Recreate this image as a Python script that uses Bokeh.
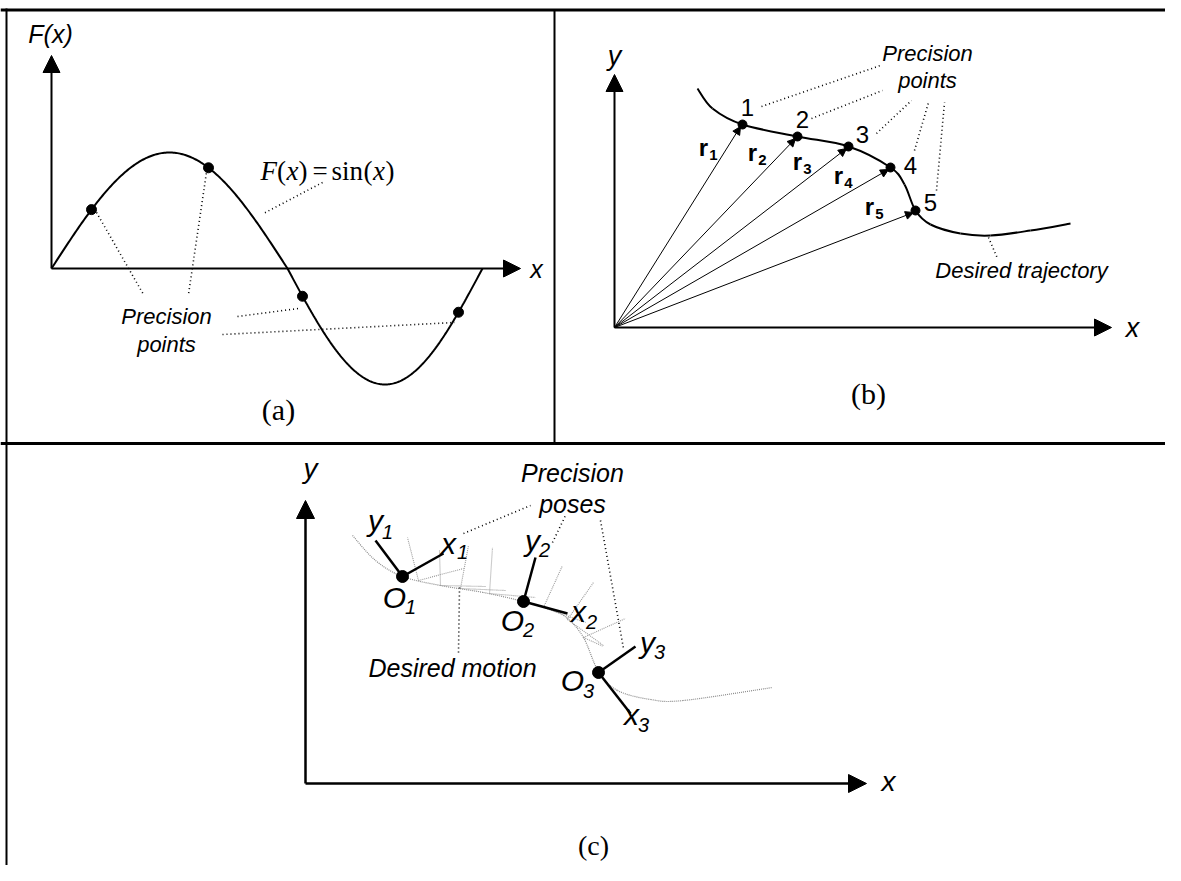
import numpy as np
from bokeh.plotting import figure
from bokeh.models import Range1d, Arrow, NormalHead
from bokeh.core.properties import value
from bokeh.embed import file_html
from bokeh.resources import INLINE

# ================= DATA =================
# --- panel (a): F(x) = sin(x) ---
a_origin_x, a_origin_y = 51, 268
a_xtip, a_ytip = 520, 55
a_zero_x, a_end_x = 287, 482          # half-period and full-period x positions
a_amp = 116
a_prec_x = [91, 208, 302, 458]         # precision points (x positions)
a_leaders = [(92, 205, 143, 294), (207, 165, 188, 294),
             (237, 316, 298, 308), (222, 334, 454, 322),
             (322, 182, 263, 213)]

# --- panel (b): position vectors to precision points ---
b_origin_x, b_origin_y = 614, 327
b_xtip, b_ytip = 1111, 74
b_traj = [(697, 88), (712, 108), (742, 124), (797, 136), (848, 146),
          (890, 167), (904, 184), (915, 210), (930, 224), (960, 233),
          (990, 235), (1030, 230), (1070, 223)]
b_points = [(742, 124), (797, 136), (848, 146), (890, 167), (915, 210)]
b_numbers = ["1", "2", "3", "4", "5"]
b_num_pos = [(747, 107), (802, 119), (862, 134), (910, 165), (930, 202)]
b_r_pos = [(703, 147), (752, 152), (797, 161), (838, 175), (869, 206)]
b_r_sub = ["1", "2", "3", "4", "5"]
b_leaders = [(761, 106, 880, 65), (811, 118, 882, 90), (876, 133, 911, 100),
             (914, 150, 928, 102), (936, 190, 944, 102), (988, 237, 997, 258)]

# --- panel (c): precision poses ---
c_origin_x, c_origin_y = 305, 783
c_xtip, c_ytip = 866, 500
c_motion = [(352, 535), (375, 560), (402, 576), (440, 585), (483, 592),
            (523, 601), (550, 609), (567, 618), (583, 637), (598, 671),
            (617, 690), (650, 699), (683, 700), (772, 687)]
c_poses = [(402, 576), (523, 601), (598, 672)]
c_yends = [(375, 540), (535, 557), (635, 646)]
c_xends = [(443, 553), (567, 613), (630, 713)]
c_ghost_o = [(418, 580), (440, 585), (460, 588), (489, 593), (543, 607), (567, 619), (583, 637)]
c_ghost_y = [(407, 537), (439, 550), (468, 545), (492, 547), (562, 565), (593, 582), (625, 618)]
c_ghost_x = [(463, 568), (485, 586), (505, 590), (535, 597), (585, 622), (603, 645), (603, 646)]
c_leaders = [(463, 533, 530, 505), (552, 542, 565, 515), (600, 520, 623, 648),
             (459, 587, 458, 652)]
c_main = ["y", "x", "O", "y", "O", "x", "y", "O", "x"]
c_main_pos = [(375, 520), (448, 543), (394, 597), (532, 540), (512, 620),
              (578, 611), (647, 642), (572, 680), (631, 714)]
c_sub = ["1", "1", "1", "2", "2", "2", "3", "3", "3"]
c_sub_pos = [(387, 531), (462, 551), (410, 606), (544, 549), (528, 629),
             (591, 621), (659, 651), (588, 690), (643, 724)]

# ================= FIGURE =================
W, H = 1165, 865
p = figure(width=W, height=H, x_range=Range1d(0, W), y_range=Range1d(H, 0),
           output_backend="svg", toolbar_location=None, min_border=0,
           x_axis_location=None, y_axis_location=None)
p.grid.visible = False
p.outline_line_color = None
p.background_fill_color = "white"
p.border_fill_color = "white"

sans = value("Liberation Sans")
serif = value("Liberation Serif")


def txt(xs, ys, texts, size, font=sans, style="normal", align="center",
        baseline="middle", color="black"):
    p.text(x=xs, y=ys, text=texts, text_font=font, text_font_size=f"{size}px",
           text_font_style=style, text_align=align, text_baseline=baseline,
           text_color=color)


def arrow(x0, y0, x1, y1, size, lw):
    p.add_layout(Arrow(end=NormalHead(size=size, fill_color="black", line_color="black"),
                       x_start=x0, y_start=y0, x_end=x1, y_end=y1,
                       line_width=lw, line_color="black"))


def smooth(pts, **kw):
    P = np.array(pts, float)
    E = np.vstack([P[0], P, P[-1]])
    seg = {k: [] for k in ["x0", "y0", "x1", "y1", "cx0", "cy0", "cx1", "cy1"]}
    for i in range(len(P) - 1):
        q0, q1, q2, q3 = E[i], E[i + 1], E[i + 2], E[i + 3]
        c1 = q1 + (q2 - q0) / 6.0
        c2 = q2 - (q3 - q1) / 6.0
        seg["x0"].append(q1[0]); seg["y0"].append(q1[1])
        seg["x1"].append(q2[0]); seg["y1"].append(q2[1])
        seg["cx0"].append(c1[0]); seg["cy0"].append(c1[1])
        seg["cx1"].append(c2[0]); seg["cy1"].append(c2[1])
    p.bezier(**seg, **kw)


def dotted(segs, color="black", dash="1 3", lw=1.6):
    s = np.array(segs, float)
    p.segment(x0=s[:, 0], y0=s[:, 1], x1=s[:, 2], y1=s[:, 3],
              line_color=color, line_dash=dash, line_width=lw)


# ---- frame ----
p.segment(x0=[0, 0], y0=[9.5, 443], x1=[W, W], y1=[9.5, 443],
          line_color="black", line_width=3)
p.segment(x0=[6, 554], y0=[8, 9], x1=[6, 554], y1=[H, 443],
          line_color="black", line_width=2)

# ================= PANEL (a) =================
arrow(a_origin_x, a_origin_y, a_xtip, a_origin_y, 17, 2)
arrow(a_origin_x, a_origin_y, a_origin_x, a_ytip, 17, 2)


def sine_xy(theta):
    theta = np.asarray(theta, float)
    x = np.where(theta <= np.pi,
                 a_origin_x + theta / np.pi * (a_zero_x - a_origin_x),
                 a_zero_x + (theta - np.pi) / np.pi * (a_end_x - a_zero_x))
    y = a_origin_y - a_amp * np.sin(theta)
    return x, y


def x_to_theta(x):
    x = np.asarray(x, float)
    return np.where(x <= a_zero_x,
                    (x - a_origin_x) / (a_zero_x - a_origin_x) * np.pi,
                    np.pi + (x - a_zero_x) / (a_end_x - a_zero_x) * np.pi)


th = np.linspace(0, 2 * np.pi, 361)
sx, sy = sine_xy(th)
p.line(sx, sy, line_color="black", line_width=2)
dotted(a_leaders)
px_, py_ = sine_xy(x_to_theta(a_prec_x))
p.scatter(px_, py_, size=10, fill_color="black", line_color="black")

txt([50], [33], ["F(x)"], 25, style="italic")
txt([536], [268], ["x"], 25, style="italic")
txt([166, 166], [316, 344], ["Precision", "points"], 22, style="italic")
# F(x) = sin(x) in serif, mixed italic
txt([260, 286, 372.5], [170, 170, 170], ["F", "x", "x"], 27, font=serif,
    style="italic", align="left")
txt([276.5, 298, 312, 331, 363, 385], [170] * 6,
    ["(", ")", "=", "sin", "(", ")"], 27, font=serif, align="left")
txt([278], [409], ["(a)"], 30, font=serif)

# ================= PANEL (b) =================
arrow(b_origin_x, b_origin_y, b_xtip, b_origin_y, 17, 2)
arrow(b_origin_x, b_origin_y, b_origin_x, b_ytip, 17, 2)
for (x, y) in b_points:
    arrow(b_origin_x, b_origin_y, x - 2, y + 2, 8, 1)
smooth(b_traj, line_color="black", line_width=2)
bp = np.array(b_points, float)
p.scatter(bp[:, 0], bp[:, 1], size=9, fill_color="black", line_color="black")
dotted(b_leaders)
bn = np.array(b_num_pos, float)
txt(list(bn[:, 0]), list(bn[:, 1]), b_numbers, 24)
br = np.array(b_r_pos, float)
txt(list(br[:, 0]), list(br[:, 1]), ["r"] * 5, 24, style="bold")
txt(list(br[:, 0] + 10), list(br[:, 1] + 7), b_r_sub, 15, style="bold")
txt([614], [55], ["y"], 27, style="italic")
txt([1132], [327], ["x"], 27, style="italic")
txt([927, 927], [53, 80], ["Precision", "points"], 22, style="italic")
txt([1021], [270], ["Desired trajectory"], 22, style="italic")
txt([868], [393], ["(b)"], 30, font=serif)

# ================= PANEL (c) =================
arrow(c_origin_x, c_origin_y, c_xtip, c_origin_y, 18, 2.5)
arrow(c_origin_x, c_origin_y, c_origin_x, c_ytip, 18, 2.5)
smooth(c_motion, line_color="#8a8a8a", line_width=1.2, line_dash="1 1")
go = np.array(c_ghost_o, float)
gy = np.array(c_ghost_y, float)
gx = np.array(c_ghost_x, float)
p.segment(x0=np.r_[go[:, 0], go[:, 0]], y0=np.r_[go[:, 1], go[:, 1]],
          x1=np.r_[gy[:, 0], gx[:, 0]], y1=np.r_[gy[:, 1], gx[:, 1]],
          line_color="#9a9a9a", line_width=1.1, line_dash="1 1")
dotted(c_leaders)
co = np.array(c_poses, float)
cy_ = np.array(c_yends, float)
cx_ = np.array(c_xends, float)
p.segment(x0=np.r_[co[:, 0], co[:, 0]], y0=np.r_[co[:, 1], co[:, 1]],
          x1=np.r_[cy_[:, 0], cx_[:, 0]], y1=np.r_[cy_[:, 1], cx_[:, 1]],
          line_color="black", line_width=2.5)
p.scatter(co[:, 0], co[:, 1], size=12, fill_color="black", line_color="black")
cm = np.array(c_main_pos, float)
txt(list(cm[:, 0]), list(cm[:, 1]), c_main, 30, style="italic")
cs = np.array(c_sub_pos, float)
txt(list(cs[:, 0]), list(cs[:, 1]), c_sub, 20, style="italic")
txt([310], [468], ["y"], 28, style="italic")
txt([888], [781], ["x"], 28, style="italic")
txt([572, 572], [472, 503], ["Precision", "poses"], 25, style="italic")
txt([452], [667], ["Desired motion"], 25, style="italic")
txt([593], [845], ["(c)"], 28, font=serif)

open("out.html", "w").write(file_html(p, INLINE))
